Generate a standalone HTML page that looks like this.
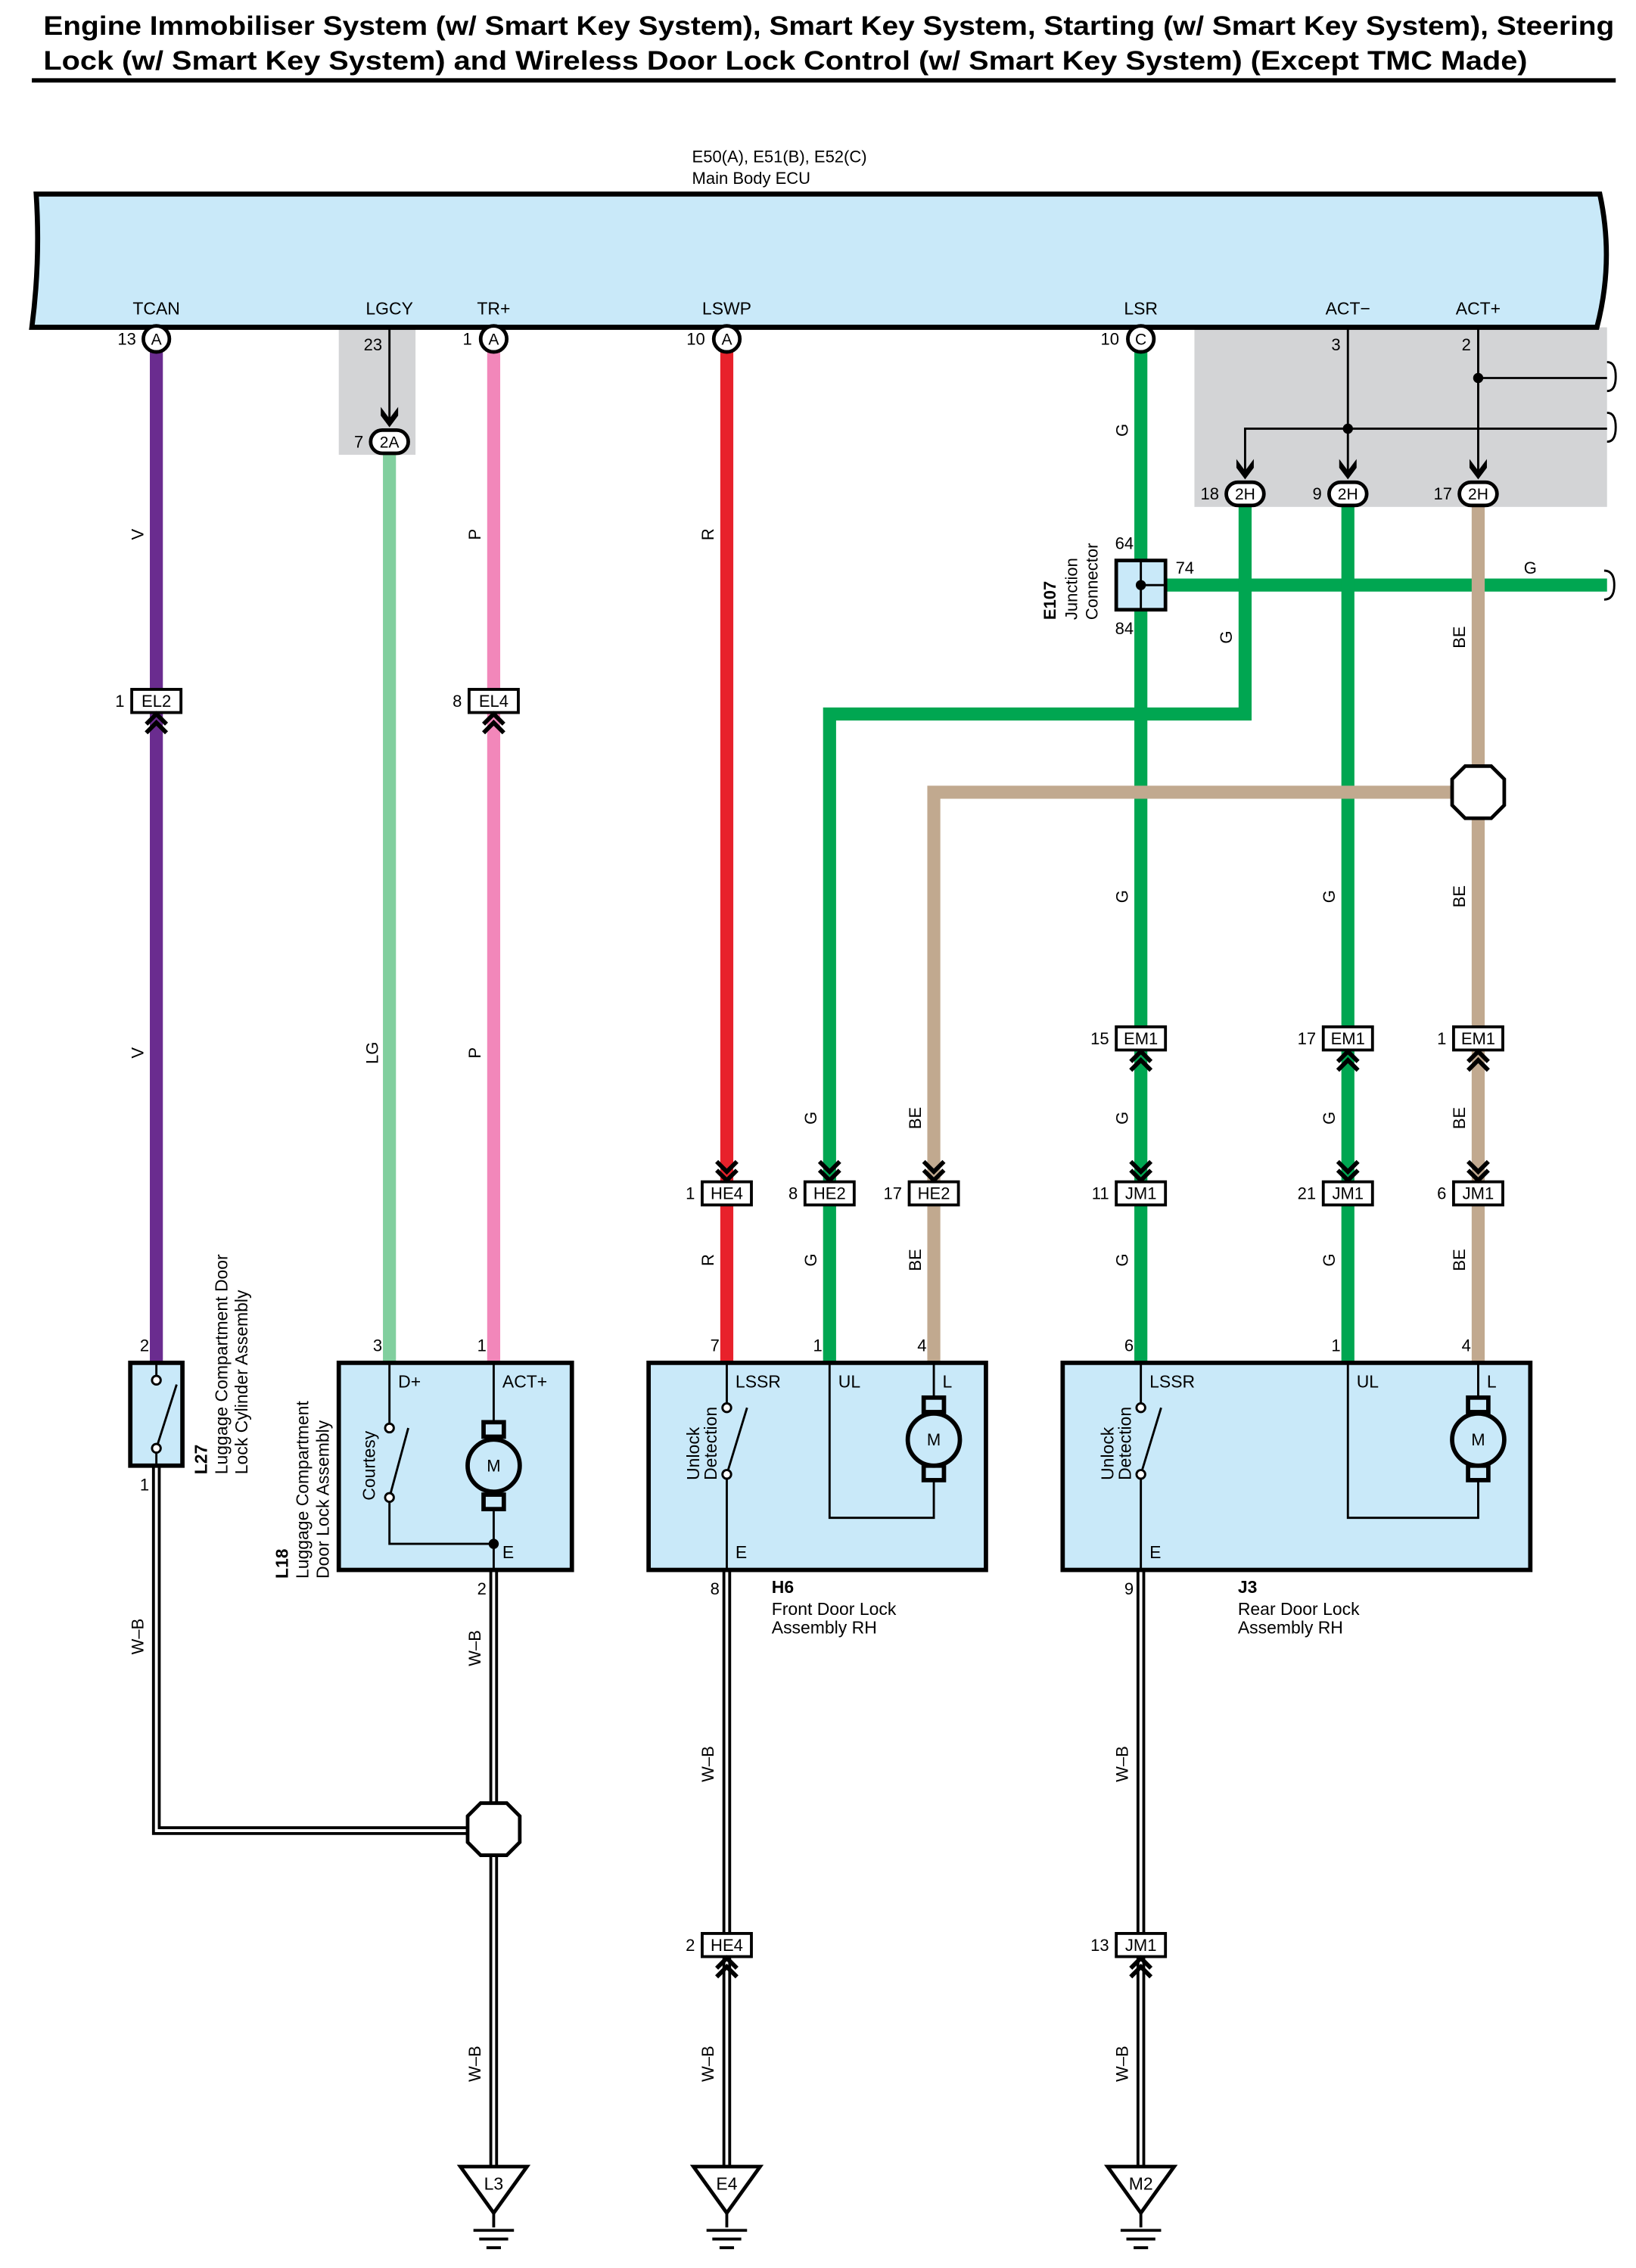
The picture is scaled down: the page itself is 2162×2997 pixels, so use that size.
<!DOCTYPE html>
<html><head><meta charset="utf-8"><style>
html,body{margin:0;padding:0;background:#fff}
svg{display:block}
text{font-family:"Liberation Sans",sans-serif;fill:#000}
</style></head><body>
<svg width="2162" height="2997" viewBox="0 0 1130 1566" preserveAspectRatio="none" xmlns="http://www.w3.org/2000/svg">
<defs>
<g id="chevD"><path d="M-7,-30 L0,-23 L7,-30 M-7,-24 L0,-17 L7,-24" stroke="#000" stroke-width="3" fill="none"/></g>
<g id="chevU"><path d="M-7,30 L0,23 L7,30 M-7,24 L0,17 L7,24" stroke="#000" stroke-width="3" fill="none"/></g>
</defs>
<text x="30" y="24" font-size="18.5" font-weight="bold" textLength="1085" lengthAdjust="spacingAndGlyphs">Engine Immobiliser System (w/ Smart Key System), Smart Key System, Starting (w/ Smart Key System), Steering</text>
<text x="30" y="48" font-size="18.5" font-weight="bold" textLength="1025" lengthAdjust="spacingAndGlyphs">Lock (w/ Smart Key System) and Wireless Door Lock Control (w/ Smart Key System) (Except TMC Made)</text>
<rect x="22" y="54" width="1094" height="3" fill="#000"/>
<text x="478" y="112" font-size="11.5">E50(A), E51(B), E52(C)</text>
<text x="478" y="127" font-size="11.5">Main Body ECU</text>
<rect x="234" y="226" width="53" height="88" fill="#d3d4d6"/>
<rect x="825" y="226" width="285" height="124" fill="#d3d4d6"/>
<path d="M25,134 L1105,134 Q1115,180 1103,226 L22,226 Q28,180 25,134 Z" fill="#c9e9f9" stroke="#000" stroke-width="3.5"/>
<g font-size="12" text-anchor="middle">
<text x="108" y="217">TCAN</text><text x="269" y="217">LGCY</text><text x="341" y="217">TR+</text><text x="502" y="217">LSWP</text><text x="788" y="217">LSR</text><text x="931" y="217">ACT−</text><text x="1021" y="217">ACT+</text>
</g>
<g stroke="#000" stroke-width="1.5" fill="none">
<line x1="269" y1="226" x2="269" y2="292"/>
<line x1="931" y1="226" x2="931" y2="325"/>
<line x1="1021" y1="226" x2="1021" y2="325"/>
<polyline points="860,325 860,296 1110,296"/>
<line x1="1021" y1="261" x2="1110" y2="261"/>
<path d="M1110,250 q6,0 6,10 q0,10 -6,10 M1110,285 q6,0 6,10 q0,10 -6,10"/>
</g>
<circle cx="931" cy="296" r="3.5"/><circle cx="1021" cy="261" r="3.5"/>
<g fill="none" stroke-width="9">
<line x1="108" y1="240" x2="108" y2="940" stroke="#6a2c8f"/>
<line x1="269" y1="312" x2="269" y2="940" stroke="#81cf9e"/>
<line x1="341" y1="240" x2="341" y2="940" stroke="#f287ba"/>
<line x1="502" y1="240" x2="502" y2="940" stroke="#e8212b"/>
<line x1="788" y1="240" x2="788" y2="940" stroke="#00a651"/>
<line x1="788" y1="404" x2="1110" y2="404" stroke="#00a651"/>
<polyline points="860,348 860,493 573,493 573,940" stroke="#00a651"/>
<line x1="931" y1="348" x2="931" y2="940" stroke="#00a651"/>
<line x1="1021" y1="348" x2="1021" y2="940" stroke="#c1a98f"/>
<polyline points="1021,547 645,547 645,940" stroke="#c1a98f"/>
</g>
<path d="M1108,394 q7,0 7,10 q0,10 -7,10" fill="none" stroke="#000" stroke-width="1.5"/>
<g fill="none" stroke="#000" stroke-width="6">
<polyline points="108,1012 108,1264 341,1264"/>
<line x1="341" y1="1084" x2="341" y2="1500"/>
<line x1="502" y1="1084" x2="502" y2="1500"/>
<line x1="788" y1="1084" x2="788" y2="1500"/>
</g>
<g fill="none" stroke="#fff" stroke-width="2">
<polyline points="108,1012 108,1264 341,1264"/>
<line x1="341" y1="1084" x2="341" y2="1500"/>
<line x1="502" y1="1084" x2="502" y2="1500"/>
<line x1="788" y1="1084" x2="788" y2="1500"/>
</g>
<polygon points="1012,529 1030,529 1039,538 1039,556 1030,565 1012,565 1003,556 1003,538" fill="#fff" stroke="#000" stroke-width="2.5"/>
<polygon points="332,1245 350,1245 359,1254 359,1272 350,1281 332,1281 323,1272 323,1254" fill="#fff" stroke="#000" stroke-width="2.5"/>
<g stroke="#000" stroke-width="2.5" fill="#fff">
<circle cx="108" cy="234" r="9"/><circle cx="341" cy="234" r="9"/><circle cx="502" cy="234" r="9"/><circle cx="788" cy="234" r="9"/>
</g>
<g font-size="11" text-anchor="middle">
<text x="108" y="238">A</text><text x="341" y="238">A</text><text x="502" y="238">A</text><text x="788" y="238">C</text>
</g>
<g font-size="11.5" text-anchor="end">
<text x="94" y="238">13</text><text x="326" y="238">1</text><text x="487" y="238">10</text><text x="773" y="238">10</text>
<text x="264" y="242">23</text><text x="926" y="242">3</text><text x="1016" y="242">2</text>
</g>
<g stroke="#000" stroke-width="2.5" fill="#fff">
<rect x="256" y="297" width="26" height="16" rx="8"/>
<rect x="847" y="333" width="26" height="16" rx="8"/>
<rect x="918" y="333" width="26" height="16" rx="8"/>
<rect x="1008" y="333" width="26" height="16" rx="8"/>
</g>
<g fill="#000">
<path d="M263,281 l6,8 l6,-8 v6 l-6,8 l-6,-8z"/>
<path d="M854,317 l6,8 l6,-8 v6 l-6,8 l-6,-8z"/>
<path d="M925,317 l6,8 l6,-8 v6 l-6,8 l-6,-8z"/>
<path d="M1015,317 l6,8 l6,-8 v6 l-6,8 l-6,-8z"/>
</g>
<g font-size="11" text-anchor="middle">
<text x="269" y="309">2A</text><text x="860" y="345">2H</text><text x="931" y="345">2H</text><text x="1021" y="345">2H</text>
</g>
<g font-size="11.5" text-anchor="end">
<text x="251" y="309">7</text><text x="842" y="345">18</text><text x="913" y="345">9</text><text x="1003" y="345">17</text>
</g>
<rect x="771" y="387" width="34" height="34" fill="#c9e9f9" stroke="#000" stroke-width="2.5"/>
<line x1="788" y1="387" x2="788" y2="421" stroke="#000" stroke-width="1.5"/><line x1="788" y1="404" x2="805" y2="404" stroke="#000" stroke-width="1.5"/>
<circle cx="788" cy="404" r="3.5"/>
<text x="783" y="379" font-size="11.5" text-anchor="end">64</text>
<text x="783" y="438" font-size="11.5" text-anchor="end">84</text>
<text x="812" y="396" font-size="11.5">74</text>
<g font-size="11.5">
<text transform="translate(729,428) rotate(-90)" font-weight="bold">E107</text>
<text transform="translate(744,428) rotate(-90)">Junction</text>
<text transform="translate(758,428) rotate(-90)">Connector</text>
</g>
<g stroke="#000" stroke-width="2" fill="#fff">
<rect x="91" y="476" width="34" height="16"/><rect x="324" y="476" width="34" height="16"/>
<rect x="771" y="709" width="34" height="16"/><rect x="914" y="709" width="34" height="16"/><rect x="1004" y="709" width="34" height="16"/>
<rect x="485" y="816" width="34" height="16"/><rect x="556" y="816" width="34" height="16"/><rect x="628" y="816" width="34" height="16"/>
<rect x="771" y="816" width="34" height="16"/><rect x="914" y="816" width="34" height="16"/><rect x="1004" y="816" width="34" height="16"/>
<rect x="485" y="1335" width="34" height="16"/><rect x="771" y="1335" width="34" height="16"/>
</g>
<g font-size="11.5" text-anchor="middle">
<text x="108" y="488">EL2</text><text x="341" y="488">EL4</text>
<text x="788" y="721">EM1</text><text x="931" y="721">EM1</text><text x="1021" y="721">EM1</text>
<text x="502" y="828">HE4</text><text x="573" y="828">HE2</text><text x="645" y="828">HE2</text>
<text x="788" y="828">JM1</text><text x="931" y="828">JM1</text><text x="1021" y="828">JM1</text>
<text x="502" y="1347">HE4</text><text x="788" y="1347">JM1</text>
</g>
<g font-size="11.5" text-anchor="end">
<text x="86" y="488">1</text><text x="319" y="488">8</text>
<text x="766" y="721">15</text><text x="909" y="721">17</text><text x="999" y="721">1</text>
<text x="480" y="828">1</text><text x="551" y="828">8</text><text x="623" y="828">17</text>
<text x="766" y="828">11</text><text x="909" y="828">21</text><text x="999" y="828">6</text>
<text x="480" y="1347">2</text><text x="766" y="1347">13</text>
</g>
<use href="#chevU" x="108" y="476"/><use href="#chevU" x="341" y="476"/>
<use href="#chevU" x="788" y="709"/><use href="#chevU" x="931" y="709"/><use href="#chevU" x="1021" y="709"/>
<use href="#chevD" x="502" y="832"/><use href="#chevD" x="573" y="832"/><use href="#chevD" x="645" y="832"/>
<use href="#chevD" x="788" y="832"/><use href="#chevD" x="931" y="832"/><use href="#chevD" x="1021" y="832"/>
<use href="#chevU" x="502" y="1335"/><use href="#chevU" x="788" y="1335"/>
<g font-size="11.5" text-anchor="middle">
<text transform="translate(99,369) rotate(-90)">V</text><text transform="translate(99,727) rotate(-90)">V</text>
<text transform="translate(261,727) rotate(-90)">LG</text>
<text transform="translate(332,369) rotate(-90)">P</text><text transform="translate(332,727) rotate(-90)">P</text>
<text transform="translate(493,369) rotate(-90)">R</text><text transform="translate(493,870) rotate(-90)">R</text>
<text transform="translate(779,297) rotate(-90)">G</text><text transform="translate(779,619) rotate(-90)">G</text><text transform="translate(779,772) rotate(-90)">G</text><text transform="translate(779,870) rotate(-90)">G</text>
<text transform="translate(851,440) rotate(-90)">G</text>
<text transform="translate(564,772) rotate(-90)">G</text><text transform="translate(564,870) rotate(-90)">G</text>
<text transform="translate(636,772) rotate(-90)">BE</text><text transform="translate(636,870) rotate(-90)">BE</text>
<text transform="translate(922,619) rotate(-90)">G</text><text transform="translate(922,772) rotate(-90)">G</text><text transform="translate(922,870) rotate(-90)">G</text>
<text transform="translate(1012,440) rotate(-90)">BE</text><text transform="translate(1012,619) rotate(-90)">BE</text><text transform="translate(1012,772) rotate(-90)">BE</text><text transform="translate(1012,870) rotate(-90)">BE</text>
<text x="1057" y="396">G</text>
<text transform="translate(99,1130) rotate(-90)">W–B</text>
<text transform="translate(332,1138) rotate(-90)">W–B</text><text transform="translate(332,1425) rotate(-90)">W–B</text>
<text transform="translate(493,1218) rotate(-90)">W–B</text><text transform="translate(493,1425) rotate(-90)">W–B</text>
<text transform="translate(779,1218) rotate(-90)">W–B</text><text transform="translate(779,1425) rotate(-90)">W–B</text>
</g>
<g stroke="#000" stroke-width="3" fill="#c9e9f9">
<rect x="90" y="941" width="36" height="71"/>
<rect x="234" y="941" width="161" height="143"/>
<rect x="448" y="941" width="233" height="143"/>
<rect x="734" y="941" width="323" height="143"/>
</g>
<g stroke="#000" stroke-width="1.5" fill="none">
<line x1="108" y1="941" x2="108" y2="953"/><line x1="108" y1="1000" x2="108" y2="1012"/>
<line x1="108" y1="1000" x2="122" y2="956"/>
<polyline points="269,941 269,986"/><line x1="269" y1="1034" x2="282" y2="986"/>
<polyline points="269,1034 269,1066 341,1066"/>
<line x1="341" y1="941" x2="341" y2="1084"/>
<line x1="502" y1="941" x2="502" y2="972"/><line x1="502" y1="1018" x2="502" y2="1084"/><line x1="502" y1="1018" x2="516" y2="972"/>
<polyline points="573,941 573,1048 645,1048 645,1018"/><line x1="645" y1="941" x2="645" y2="972"/>
<line x1="788" y1="941" x2="788" y2="972"/><line x1="788" y1="1018" x2="788" y2="1084"/><line x1="788" y1="1018" x2="802" y2="972"/>
<polyline points="931,941 931,1048 1021,1048 1021,1018"/><line x1="1021" y1="941" x2="1021" y2="972"/>
</g>
<g fill="#fff" stroke="#000" stroke-width="1.5">
<circle cx="108" cy="953" r="3"/><circle cx="108" cy="1000" r="3"/>
<circle cx="269" cy="986" r="3"/><circle cx="269" cy="1034" r="3"/>
<circle cx="502" cy="972" r="3"/><circle cx="502" cy="1018" r="3"/>
<circle cx="788" cy="972" r="3"/><circle cx="788" cy="1018" r="3"/>
</g>
<circle cx="341" cy="1066" r="3.5"/>
<g stroke="#000" stroke-width="3" fill="#c9e9f9">
<rect x="334" y="982" width="14" height="10"/><rect x="334" y="1032" width="14" height="10"/><circle cx="341" cy="1012" r="18"/>
<rect x="638" y="965" width="14" height="10"/><rect x="638" y="1012" width="14" height="10"/><circle cx="645" cy="994" r="18"/>
<rect x="1014" y="965" width="14" height="10"/><rect x="1014" y="1012" width="14" height="10"/><circle cx="1021" cy="994" r="18"/>
</g>
<g font-size="11.5" text-anchor="middle">
<text x="341" y="1016">M</text><text x="645" y="998">M</text><text x="1021" y="998">M</text>
</g>
<g font-size="12">
<text x="275" y="958">D+</text><text x="347" y="958">ACT+</text><text x="347" y="1076">E</text>
<text x="508" y="958">LSSR</text><text x="579" y="958">UL</text><text x="651" y="958">L</text><text x="508" y="1076">E</text>
<text x="794" y="958">LSSR</text><text x="937" y="958">UL</text><text x="1027" y="958">L</text><text x="794" y="1076">E</text>
<text transform="translate(259,1036) rotate(-90)">Courtesy</text>
<text transform="translate(483,1022) rotate(-90)">Unlock</text><text transform="translate(495,1022) rotate(-90)">Detection</text>
<text transform="translate(769,1022) rotate(-90)">Unlock</text><text transform="translate(781,1022) rotate(-90)">Detection</text>
</g>
<g font-size="11.5" text-anchor="end">
<text x="103" y="933">2</text><text x="103" y="1029">1</text>
<text x="264" y="933">3</text><text x="336" y="933">1</text><text x="336" y="1101">2</text>
<text x="497" y="933">7</text><text x="568" y="933">1</text><text x="640" y="933">4</text><text x="497" y="1101">8</text>
<text x="783" y="933">6</text><text x="926" y="933">1</text><text x="1016" y="933">4</text><text x="783" y="1101">9</text>
</g>
<g font-size="12">
<text transform="translate(143,1018) rotate(-90)" font-weight="bold">L27</text>
<text transform="translate(157,1018) rotate(-90)">Luggage Compartment Door</text>
<text transform="translate(171,1018) rotate(-90)">Lock Cylinder Assembly</text>
<text transform="translate(199,1090) rotate(-90)" font-weight="bold">L18</text>
<text transform="translate(213,1090) rotate(-90)">Luggage Compartment</text>
<text transform="translate(227,1090) rotate(-90)">Door Lock Assembly</text>
<text x="533" y="1100" font-weight="bold">H6</text>
<text x="533" y="1115">Front Door Lock</text><text x="533" y="1128">Assembly RH</text>
<text x="855" y="1100" font-weight="bold">J3</text>
<text x="855" y="1115">Rear Door Lock</text><text x="855" y="1128">Assembly RH</text>
</g>
<g stroke="#000" stroke-width="2.5" fill="#fff">
<polygon points="318,1496 364,1496 341,1528"/>
<polygon points="479,1496 525,1496 502,1528"/>
<polygon points="765,1496 811,1496 788,1528"/>
</g>
<g stroke="#000" stroke-width="2">
<path d="M341,1528 v10 M327,1540 h28 M331,1546 h20 M336,1552 h10"/>
<path d="M502,1528 v10 M488,1540 h28 M492,1546 h20 M497,1552 h10"/>
<path d="M788,1528 v10 M774,1540 h28 M778,1546 h20 M783,1552 h10"/>
</g>
<g font-size="12" text-anchor="middle">
<text x="341" y="1512">L3</text><text x="502" y="1512">E4</text><text x="788" y="1512">M2</text>
</g>
</svg>
</body></html>
